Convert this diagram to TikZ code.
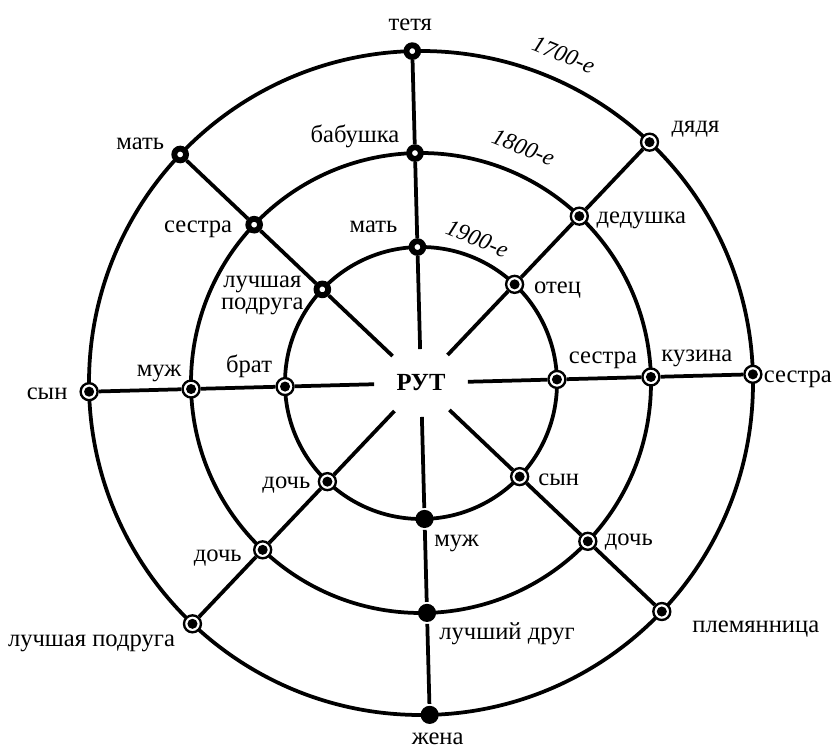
\documentclass[tikz,border=0pt]{standalone}
\usepackage{fontspec}
\setmainfont{Liberation Serif}
\usetikzlibrary{shapes.geometric}

\tikzset{
  ring/.style={circle, draw, fill=white, line width=5pt, inner sep=0pt, minimum size=10pt},
  target/.style={circle, draw, fill=white, line width=2pt, inner sep=0pt, minimum size=14.5pt,
    path picture={\fill[black] (path picture bounding box.center) circle (4.3pt);}},
  dot/.style={circle, fill, inner sep=0pt, minimum size=15.5pt},
  rut/.style={ellipse, inner sep=0pt, outer sep=0pt, minimum width=80pt, minimum height=58pt,
    font=\bfseries\fontsize{21}{21}\selectfont},
  lbl/.style={anchor=base, inner sep=0pt, font=\fontsize{21}{19}\selectfont},
  era/.style={inner sep=0pt, rotate=-22, font=\itshape\fontsize{20}{20}\selectfont},
}

\begin{document}
\begin{tikzpicture}[x=0.03cm, y=0.03cm, line width=3.2pt]
  \useasboundingbox (-421,-367) rectangle (413,383);
  \draw (0,0) circle [radius=136];
  \draw (0,0) circle [radius=230];
  \draw (0,0) circle [radius=332];

  \node[rut] (rut) at (0,0) {РУТ};

  \node[ring] (i1) at (91.5:136) {};
  \node[target] (i2) at (46.5:136) {};
  \node[target] (i3) at (1.5:136) {};
  \node[target] (i4) at (-43.5:136) {};
  \node[dot] (i5) at (-88.5:136) {};
  \node[target] (i6) at (-133.5:136) {};
  \node[target] (i7) at (181.5:136) {};
  \node[ring] (i8) at (136.5:136) {};

  \node[ring] (m1) at (91.5:230) {};
  \node[target] (m2) at (46.5:230) {};
  \node[target] (m3) at (1.5:230) {};
  \node[target] (m4) at (-43.5:230) {};
  \node[dot] (m5) at (-88.5:230) {};
  \node[target] (m6) at (-133.5:230) {};
  \node[target] (m7) at (181.5:230) {};
  \node[ring] (m8) at (136.5:230) {};

  \node[ring] (o1) at (91.5:332) {};
  \node[target] (o2) at (46.5:332) {};
  \node[target] (o3) at (1.5:332) {};
  \node[target] (o4) at (-43.5:332) {};
  \node[dot] (o5) at (-88.5:332) {};
  \node[target] (o6) at (-133.5:332) {};
  \node[target] (o7) at (181.5:332) {};
  \node[ring] (o8) at (136.5:332) {};

  \draw (rut) -- (i1) -- (m1) -- (o1);
  \draw (rut) -- (i2) -- (m2) -- (o2);
  \draw (rut) -- (i3) -- (m3) -- (o3);
  \draw (rut) -- (i4) -- (m4) -- (o4);
  \draw (rut) -- (i5) -- (m5) -- (o5);
  \draw (rut) -- (i6) -- (m6) -- (o6);
  \draw (rut) -- (i7) -- (m7) -- (o7);
  \draw (rut) -- (i8) -- (m8) -- (o8);

  % 1900-e
  \node[lbl] (lbl-i1) at ([shift={(-44,15)}]i1) {мать};
  \node[lbl] (lbl-i2) at ([shift={(43,-9)}]i2) {отец};
  \node[lbl] (lbl-i3) at ([shift={(46,16)}]i3) {сестра};
  \node[lbl] (lbl-i4) at ([shift={(39,-9)}]i4) {сын};
  \node[lbl] (lbl-i5) at ([shift={(32,-28)}]i5) {муж};
  \node[lbl] (lbl-i6) at ([shift={(-41,-7)}]i6) {дочь};
  \node[lbl] (lbl-i7) at ([shift={(-36,14)}]i7) {брат};
  \node[lbl, align=center] (lbl-i8) at ([shift={(-60,-20)}]i8) {лучшая\\подруга};

  % 1800-e
  \node[lbl] (lbl-m1) at ([shift={(-60,11)}]m1) {бабушка};
  \node[lbl] (lbl-m2) at ([shift={(62,-7)}]m2) {дедушка};
  \node[lbl] (lbl-m3) at ([shift={(46,15)}]m3) {кузина};
  \node[lbl] (lbl-m4) at ([shift={(41,-4)}]m4) {дочь};
  \node[lbl] (lbl-m5) at ([shift={(80,-27)}]m5) {лучший друг};
  \node[lbl] (lbl-m6) at ([shift={(-45,-12)}]m6) {дочь};
  \node[lbl] (lbl-m7) at ([shift={(-32,13)}]m7) {муж};
  \node[lbl] (lbl-m8) at ([shift={(-56,-8)}]m8) {сестра};

  % 1700-e
  \node[lbl] (lbl-o1) at ([shift={(-2,21)}]o1) {тетя};
  \node[lbl] (lbl-o2) at ([shift={(46,10)}]o2) {дядя};
  \node[lbl] (lbl-o3) at ([shift={(45,-8)}]o3) {сестра};
  \node[lbl] (lbl-o4) at ([shift={(94,-21)}]o4) {племянница};
  \node[lbl] (lbl-o5) at ([shift={(8,-30)}]o5) {жена};
  \node[lbl] (lbl-o6) at ([shift={(-101,-23)}]o6) {лучшая подруга};
  \node[lbl] (lbl-o7) at ([shift={(-42,-8)}]o7) {сын};
  \node[lbl] (lbl-o8) at ([shift={(-40,5)}]o8) {мать};

  \node[era] (y1900) at (68.7:155) {1900-е};
  \node[era] (y1800) at (66.5:257) {1800-е};
  \node[era] (y1700) at (66.5:358) {1700-е};
\end{tikzpicture}
\end{document}
